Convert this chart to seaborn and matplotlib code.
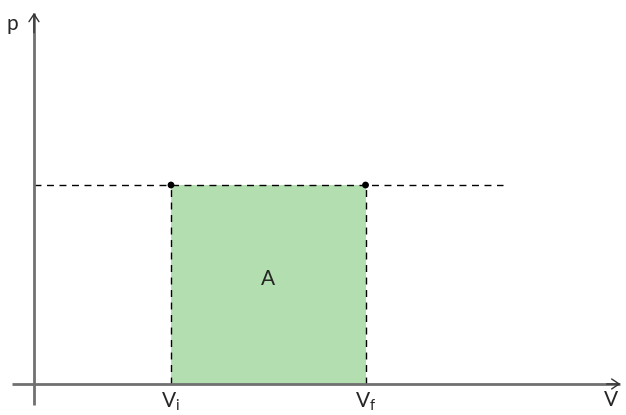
import numpy as np
import pandas as pd
import matplotlib
matplotlib.use("Agg")
import matplotlib.pyplot as plt
from matplotlib import font_manager
import seaborn as sns

# 데이터 (임의 단위)
v_i = 1.0
v_f = 2.42
p_const = 1.0
v_dash_end = 3.42
v_axis = [-0.16, 4.28]
p_axis = [-0.105, 1.865]
tick_labels = ["V", "p", "A"]

sns.set_style("white")

# 설치된 폰트 중 첫 번째 것 사용
font_name = 'DejaVu Sans'
for cand in ['Lato', 'Open Sans', 'Noto Sans']:
    try:
        font_manager.findfont(cand, fallback_to_default=False)
        font_name = cand
        break
    except ValueError:
        pass
plt.rcParams['font.family'] = [font_name, 'DejaVu Sans']
plt.rcParams['mathtext.fontset'] = 'custom'
plt.rcParams['mathtext.rm'] = font_name
plt.rcParams['mathtext.it'] = font_name

fig = plt.figure(figsize=(6.26, 4.15), dpi=100)
ax = fig.add_axes([0, 0, 1, 1])
ax.set_xlim(-0.248, 4.321)
ax.set_ylim(-0.156, 1.930)
ax.axis('off')

# 사각형 면적
ax.fill_between([v_i, v_f], 0, p_const, color='#b3deb0', lw=0, zorder=1)

# 점선들
dash = (0, (5, 4))
line_df = pd.DataFrame({'V': [0, v_dash_end], 'p': [p_const, p_const]})
sns.lineplot(data=line_df, x='V', y='p', ax=ax, color='black', lw=1,
             linestyle=dash, zorder=2)
for v in [v_i, v_f]:
    ax.plot([v, v], [0, p_const], color='black', lw=1, linestyle=dash, zorder=2)

# 점
pts = pd.DataFrame({'V': [v_i, v_f], 'p': [p_const, p_const]})
sns.scatterplot(data=pts, x='V', y='p', ax=ax, color='black', s=24,
                edgecolor='none', zorder=4)

# 좌표축
axis_col = '#707070'
ax.plot(v_axis, [0, 0], color=axis_col, lw=2, solid_capstyle='butt', zorder=3)
ax.plot([0, 0], p_axis, color=axis_col, lw=2, solid_capstyle='butt', zorder=3)
head_kw = dict(arrowstyle='->,head_length=0.45,head_width=0.3', color='#333333',
               lw=1, shrinkA=0, shrinkB=0, mutation_scale=12)
ax.annotate('', xy=(v_axis[1], 0), xytext=(v_axis[1] - 0.1, 0), arrowprops=head_kw, zorder=3)
ax.annotate('', xy=(0, p_axis[1]), xytext=(0, p_axis[1] - 0.1), arrowprops=head_kw, zorder=3)

# 라벨
fs = 15
ax.text(4.215, -0.08, tick_labels[0], fontsize=fs, ha='center', va='center')
ax.text(-0.155, 1.81, tick_labels[1], fontsize=fs, ha='center', va='center')
ax.text((v_i + v_f) / 2, 0.53, tick_labels[2], fontsize=fs, ha='center', va='center')
ax.text(v_i, -0.118, r'$\mathrm{V_i}$', fontsize=fs, ha='center', va='baseline')
ax.text(v_f, -0.118, r'$\mathrm{V_f}$', fontsize=fs, ha='center', va='baseline')

fig.savefig('out.png', dpi=100)
